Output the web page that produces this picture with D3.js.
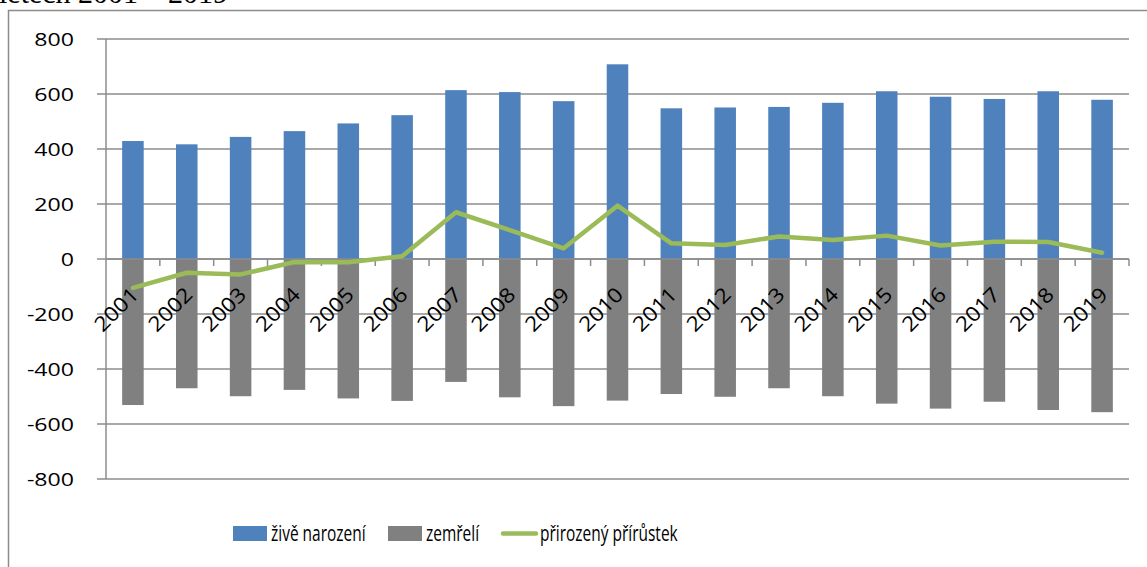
<!DOCTYPE html>
<html>
<head>
<meta charset="utf-8">
<script src="https://cdn.jsdelivr.net/npm/d3@7"></script>
<style>
  body { margin: 0; background: #fff; }
  svg { display: block; }
</style>
</head>
<body>
<div id="graph"></div>
<script>
var years = ["2001", "2002", "2003", "2004", "2005", "2006", "2007", "2008", "2009", "2010",
             "2011", "2012", "2013", "2014", "2015", "2016", "2017", "2018", "2019"];
var births = [429, 417, 444, 465, 493, 523, 614, 607, 574, 708, 548, 551, 553, 568, 610, 590, 582, 610, 579];
var deaths = [-531, -470, -499, -476, -507, -516, -447, -503, -535, -515, -491, -501, -470, -499, -526, -544, -519, -549, -557];
var natural = [-105, -50, -56, -11, -12, 10, 170, 105, 39, 194, 57, 51, 82, 69, 85, 49, 63, 62, 23];
var yTicks = [-800, -600, -400, -200, 0, 200, 400, 600, 800];
var legendNames = ["živě narození", "zemřelí", "přirozený přírůstek"];

var W = 1147, H = 567;
var gridColor = "#8c8c8c";
var font = "'Open Sans', Lato, sans-serif";

var svg = d3.select("#graph").append("svg")
    .attr("width", W)
    .attr("height", H);

// heading above the chart, cut off by the page top
svg.append("text")
    .attr("x", -1)
    .attr("y", 3)
    .style("font-family", "'Liberation Serif', serif")
    .style("font-size", "30px")
    .text("letech 2001 – 2019");

// chart frame
svg.append("rect")
    .attr("x", 8.5)
    .attr("y", 10.5)
    .attr("width", W + 20)
    .attr("height", H + 20)
    .attr("fill", "none")
    .attr("stroke", gridColor)
    .attr("stroke-width", 1.5);

var x = d3.scaleBand().domain(years).range([106, 1129]);
var y = d3.scaleLinear().domain([-800, 800]).range([479, 39]);
var barW = x.bandwidth() * 0.4;

// gridlines
svg.append("g")
    .selectAll("line").data(yTicks).enter().append("line")
    .attr("x1", 97)
    .attr("x2", 1129)
    .attr("y1", function(d) { return y(d); })
    .attr("y2", function(d) { return y(d); })
    .attr("stroke", gridColor)
    .attr("stroke-width", 1.5);

// y axis line
svg.append("line")
    .attr("x1", 106).attr("x2", 106)
    .attr("y1", y(800)).attr("y2", y(-800))
    .attr("stroke", gridColor)
    .attr("stroke-width", 1.5);

// y labels
svg.append("g")
    .selectAll("g").data(yTicks).enter().append("g")
    .attr("transform", function(d) { return "translate(74," + (y(d) + 6.5) + ") scale(1.25,1)"; })
    .append("text")
    .attr("text-anchor", "end")
    .style("font-family", font)
    .style("font-size", "18.5px")
    .text(function(d) { return d; });

// bars
svg.append("g")
    .selectAll("rect").data(years).enter().append("rect")
    .attr("x", function(d) { return x(d) + (x.bandwidth() - barW) / 2; })
    .attr("width", barW)
    .attr("y", function(d, i) { return y(births[i]); })
    .attr("height", function(d, i) { return y(0) - y(births[i]); })
    .attr("fill", "#4f81bd");

svg.append("g")
    .selectAll("rect").data(years).enter().append("rect")
    .attr("x", function(d) { return x(d) + (x.bandwidth() - barW) / 2; })
    .attr("width", barW)
    .attr("y", y(0))
    .attr("height", function(d, i) { return y(deaths[i]) - y(0); })
    .attr("fill", "#808080");

// x axis (zero line) with ticks between categories
var xAxis = svg.append("g");
xAxis.append("line")
    .attr("x1", 106).attr("x2", 1129)
    .attr("y1", y(0)).attr("y2", y(0))
    .attr("stroke", gridColor)
    .attr("stroke-width", 1.5);
xAxis.selectAll("line.tick").data(years.slice(1).concat(["end"])).enter().append("line")
    .attr("class", "tick")
    .attr("x1", function(d) { return d === "end" ? 1129 : x(d); })
    .attr("x2", function(d) { return d === "end" ? 1129 : x(d); })
    .attr("y1", y(0))
    .attr("y2", y(0) + 7)
    .attr("stroke", gridColor)
    .attr("stroke-width", 1.5);

// natural increase line
var line = d3.line()
    .x(function(d, i) { return x(years[i]) + x.bandwidth() / 2; })
    .y(function(d) { return y(d); });

svg.append("path")
    .attr("d", line(natural))
    .attr("fill", "none")
    .attr("stroke", "#9bbb59")
    .attr("stroke-width", 4.5)
    .attr("stroke-linejoin", "round")
    .attr("stroke-linecap", "round");

// rotated year labels
svg.append("g")
    .selectAll("g").data(years).enter().append("g")
    .attr("transform", function(d) {
        return "translate(" + (x(d) + x.bandwidth() / 2 + 7) + "," + (y(0) + 37) + ") rotate(-45) scale(1.12,1)";
    })
    .append("text")
    .attr("text-anchor", "end")
    .style("font-family", font)
    .style("font-size", "20.5px")
    .text(function(d) { return d; });

// legend
var legend = svg.append("g");
legend.append("rect")
    .attr("x", 233).attr("y", 526).attr("width", 34).attr("height", 15)
    .attr("fill", "#4f81bd");
legend.append("rect")
    .attr("x", 388).attr("y", 526).attr("width", 34).attr("height", 15)
    .attr("fill", "#808080");
legend.append("line")
    .attr("x1", 503).attr("x2", 536)
    .attr("y1", 533.5).attr("y2", 533.5)
    .attr("stroke", "#9bbb59")
    .attr("stroke-width", 4.5)
    .attr("stroke-linecap", "round");

var legendX = [271, 426, 540];
legend.selectAll("g").data(legendNames).enter().append("g")
    .attr("transform", function(d, i) { return "translate(" + legendX[i] + ",541) scale(0.72,1)"; })
    .append("text")
    .style("font-family", font)
    .style("font-size", "21.5px")
    .text(function(d) { return d; });
</script>
</body>
</html>
